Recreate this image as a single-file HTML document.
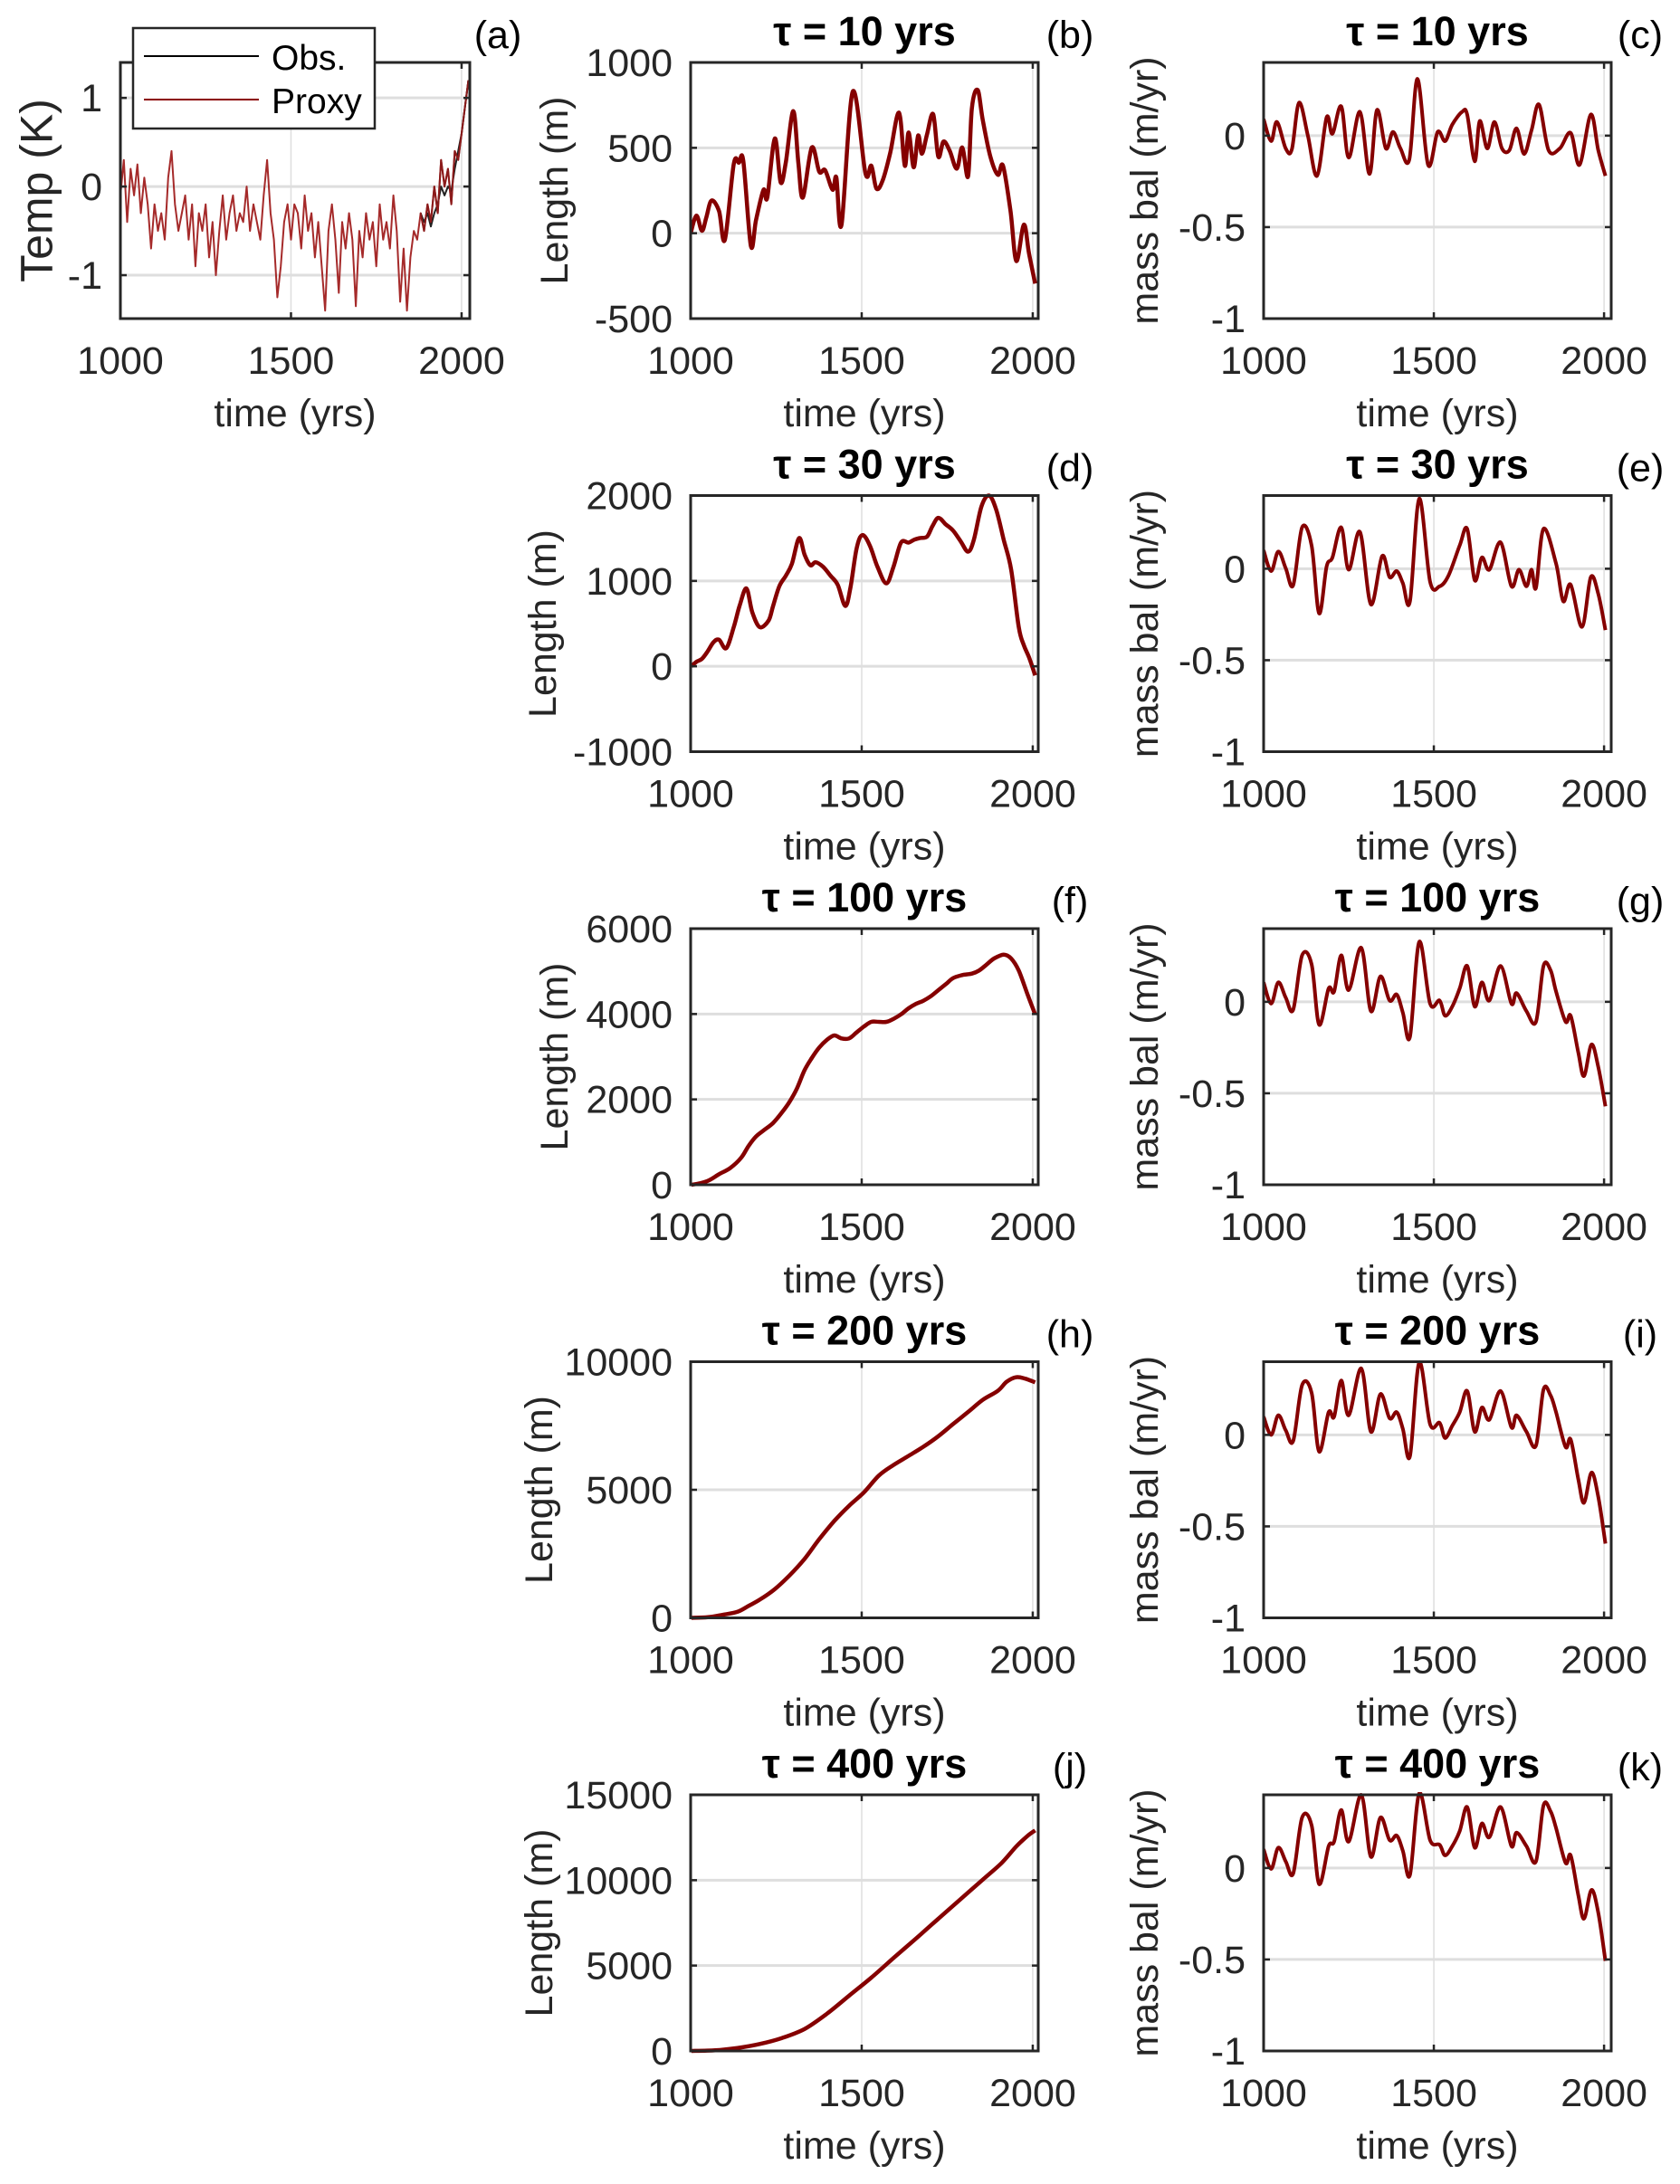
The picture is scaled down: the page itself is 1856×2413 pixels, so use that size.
<!DOCTYPE html>
<html><head><meta charset="utf-8">
<style>
html,body{margin:0;padding:0;background:#fff;}
svg{display:block;}
text{font-family:"Liberation Sans",Arial,sans-serif;}
</style></head>
<body>
<svg id="fig" width="1856" height="2413" viewBox="0 0 1856 2413" xmlns="http://www.w3.org/2000/svg"></svg>
<script>
// ---------- DATA ----------
const proxyYears = [1000,1010,1020,1030,1040,1050,1060,1070,1080,1090,1100,1110,1120,1130,1140,1150,1160,1170,1180,1190,1200,1210,1220,1230,1240,1250,1260,1270,1280,1290,1300,1310,1320,1330,1340,1350,1360,1370,1380,1390,1400,1410,1420,1430,1440,1450,1460,1470,1480,1490,1500,1510,1520,1530,1540,1550,1560,1570,1580,1590,1600,1610,1620,1630,1640,1650,1660,1670,1680,1690,1700,1710,1720,1730,1740,1750,1760,1770,1780,1790,1800,1810,1820,1830,1840,1850,1860,1870,1880,1890,1900,1910,1920,1930,1940,1950,1960,1970,1980,1990,2000,2010,2020];
const proxyTemp = [-0.1,0.3,-0.4,0.2,-0.1,0.25,-0.3,0.1,-0.2,-0.7,-0.2,-0.5,-0.3,-0.6,0.1,0.4,-0.2,-0.5,-0.3,-0.1,-0.6,-0.2,-0.9,-0.3,-0.5,-0.2,-0.8,-0.4,-1.0,-0.5,-0.1,-0.6,-0.3,-0.1,-0.5,-0.3,-0.4,0.0,-0.5,-0.2,-0.4,-0.6,-0.1,0.3,-0.3,-0.6,-1.25,-0.9,-0.4,-0.2,-0.6,-0.2,-0.3,-0.7,-0.1,-0.5,-0.3,-0.8,-0.4,-0.9,-1.4,-0.5,-0.2,-0.6,-1.2,-0.4,-0.7,-0.3,-0.6,-1.35,-0.5,-0.8,-0.3,-0.6,-0.4,-0.9,-0.2,-0.6,-0.4,-0.7,-0.1,-0.5,-1.3,-0.7,-1.4,-0.8,-0.5,-0.6,-0.3,-0.5,-0.2,-0.4,0.0,-0.3,0.3,0.0,0.2,-0.2,0.4,0.3,0.6,0.9,1.2];
const obsYears = [1880,1890,1900,1910,1920,1930,1940,1950,1960,1970,1980,1990,2000,2010,2020];
const obsTemp = [-0.3,-0.4,-0.3,-0.45,-0.3,-0.2,0.0,-0.1,0.0,-0.05,0.2,0.4,0.6,0.9,1.2];

const lenYears10 = [1000,1017,1033,1046,1061,1083,1100,1126,1141,1154,1176,1191,1213,1224,1246,1263,1278,1300,1315,1328,1354,1376,1393,1415,1426,1441,1474,1511,1528,1543,1561,1583,1609,1626,1637,1652,1665,1676,1691,1709,1724,1739,1757,1778,1794,1811,1822,1839,1854,1876,1898,1913,1935,1952,1974,1989,2007];
const len10 = [0,103,14,94,191,129,-39,404,413,422,-74,76,254,209,555,298,413,715,406,209,502,360,369,254,326,50,830,351,395,262,307,466,706,395,590,386,572,465,580,697,449,537,484,378,502,333,732,839,661,449,342,395,129,-163,50,-118,-295];

const lenYears30 = [1002,1017,1033,1050,1067,1083,1104,1126,1143,1163,1180,1202,1228,1241,1259,1278,1296,1317,1333,1350,1365,1387,1409,1430,1452,1467,1485,1502,1524,1546,1572,1593,1615,1637,1654,1670,1691,1707,1724,1746,1767,1789,1811,1828,1850,1872,1893,1915,1937,1959,1974,1989,2007];
const len30 = [0,53,88,177,283,311,212,459,707,912,636,459,537,707,936,1060,1201,1502,1307,1184,1219,1166,1060,954,707,919,1378,1537,1413,1166,972,1166,1449,1449,1484,1502,1519,1643,1739,1661,1590,1466,1343,1484,1873,2000,1837,1484,1131,459,247,106,-106];

const lenYears100 = [1002,1028,1054,1083,1115,1148,1170,1191,1213,1241,1267,1289,1311,1333,1354,1376,1398,1420,1441,1463,1485,1507,1528,1550,1572,1593,1615,1637,1659,1680,1702,1724,1746,1767,1794,1822,1843,1865,1887,1915,1937,1959,1985,2007];
const len100 = [0,35,106,247,389,636,919,1131,1272,1449,1696,1943,2261,2686,2968,3216,3392,3498,3428,3428,3569,3710,3816,3816,3816,3887,3993,4134,4240,4311,4417,4558,4700,4841,4912,4947,5018,5159,5300,5392,5300,5018,4452,3993];

const lenYears200 = [1002,1050,1093,1137,1170,1202,1246,1289,1333,1376,1420,1463,1507,1550,1593,1637,1680,1724,1767,1811,1854,1898,1924,1952,1978,2007];
const len200 = [0,24,118,236,473,709,1123,1655,2305,3073,3783,4374,4905,5556,5969,6324,6678,7092,7565,8038,8511,8865,9220,9397,9338,9196];

const lenYears400 = [1002,1072,1137,1202,1267,1333,1398,1463,1528,1593,1659,1724,1789,1854,1909,1952,1985,2007];
const len400 = [0,35,177,406,760,1290,2173,3233,4293,5442,6590,7739,8887,10035,11007,11979,12597,12915];

const mbYears10 = [1000,1022,1039,1065,1083,1104,1130,1157,1185,1202,1228,1250,1283,1311,1333,1359,1380,1402,1428,1452,1483,1511,1533,1554,1583,1598,1620,1635,1657,1678,1700,1722,1743,1765,1787,1809,1837,1870,1902,1928,1961,1983,2004];
const mb10 = [0.09,-0.03,0.075,-0.07,-0.075,0.18,0.0,-0.22,0.1,0.01,0.16,-0.12,0.13,-0.21,0.14,-0.07,0.02,-0.07,-0.13,0.31,-0.16,0.02,-0.03,0.06,0.13,0.115,-0.14,0.08,-0.07,0.075,-0.07,-0.08,0.04,-0.1,0.03,0.17,-0.08,-0.07,0.015,-0.16,0.115,-0.08,-0.22];

const mbYears30 = [1000,1022,1043,1065,1087,1113,1141,1163,1185,1202,1228,1250,1283,1315,1348,1370,1391,1409,1430,1457,1489,1517,1543,1576,1598,1620,1641,1663,1696,1728,1750,1772,1787,1800,1822,1859,1880,1902,1935,1961,1983,2004];
const mb30 = [0.10,-0.013,0.094,0.003,-0.09,0.226,0.127,-0.244,0.012,0.061,0.226,-0.005,0.201,-0.195,0.069,-0.046,-0.013,-0.079,-0.178,0.383,-0.071,-0.096,-0.038,0.127,0.218,-0.063,0.061,-0.005,0.144,-0.096,-0.005,-0.096,-0.005,-0.104,0.218,0.028,-0.178,-0.087,-0.318,-0.046,-0.137,-0.335];

const mbYearsLong = [1000,1022,1043,1065,1087,1113,1141,1163,1191,1207,1228,1250,1287,1315,1343,1370,1391,1409,1430,1457,1489,1517,1533,1554,1576,1598,1620,1641,1663,1696,1728,1743,1772,1800,1822,1843,1859,1887,1902,1924,1941,1963,1983,2004];
const mb100 = [0.106,-0.01,0.106,0.023,-0.043,0.254,0.205,-0.125,0.073,0.056,0.254,0.064,0.295,-0.051,0.139,0.007,0.040,-0.059,-0.191,0.328,-0.010,0.007,-0.076,-0.026,0.073,0.196,-0.026,0.106,0.007,0.196,-0.010,0.048,-0.051,-0.109,0.196,0.172,0.056,-0.109,-0.076,-0.274,-0.406,-0.233,-0.356,-0.571];
const mb200 = [0.099,0,0.107,0.025,-0.033,0.272,0.231,-0.091,0.124,0.099,0.297,0.107,0.363,0.017,0.223,0.091,0.124,0.033,-0.116,0.396,0.058,0.066,-0.017,0.050,0.124,0.240,0.017,0.149,0.083,0.240,0.041,0.107,0.017,-0.058,0.248,0.215,0.124,-0.066,-0.025,-0.239,-0.371,-0.206,-0.338,-0.594];
const mb400 = [0.102,-0.005,0.111,0.036,-0.030,0.276,0.234,-0.088,0.119,0.144,0.317,0.144,0.399,0.061,0.276,0.152,0.177,0.094,-0.038,0.408,0.152,0.127,0.069,0.119,0.201,0.333,0.111,0.243,0.168,0.333,0.119,0.193,0.119,0.036,0.342,0.309,0.218,0.028,0.069,-0.145,-0.277,-0.12,-0.244,-0.508];

const xTicks = [1000,1500,2000];
const tempTicks = [-1,0,1];
const mbTicks = [-1,-0.5,0];
const mbTickLabels = ['-1','-0.5','0'];
const tauLabels = ['10','30','100','200','400'];
const lenTicks = [[-500,0,500,1000],[-1000,0,1000,2000],[0,2000,4000,6000],[0,5000,10000],[0,5000,10000,15000]];
const lenRanges = [[-500,1000],[-1000,2000],[0,6000],[0,10000],[0,15000]];

// ---------- DRAW ----------
const NS='http://www.w3.org/2000/svg';
const svg=document.getElementById('fig');
function el(tag,attrs,parent){const e=document.createElementNS(NS,tag);for(const k in attrs)e.setAttribute(k,attrs[k]);(parent||svg).appendChild(e);return e;}
function txt(s,attrs,parent){const t=el('text',attrs,parent);t.textContent=s;return t;}
function pathD(pts,smooth){
  if(!smooth) return pts.map((p,i)=>(i?'L':'M')+p[0].toFixed(1)+','+p[1].toFixed(1)).join('');
  let d='M'+pts[0][0].toFixed(1)+','+pts[0][1].toFixed(1);
  for(let i=0;i<pts.length-1;i++){
    const p0=pts[Math.max(0,i-1)],p1=pts[i],p2=pts[i+1],p3=pts[Math.min(pts.length-1,i+2)];
    const c1=[p1[0]+(p2[0]-p0[0])/6,p1[1]+(p2[1]-p0[1])/6];
    const c2=[p2[0]-(p3[0]-p1[0])/6,p2[1]-(p3[1]-p1[1])/6];
    d+='C'+c1[0].toFixed(1)+','+c1[1].toFixed(1)+' '+c2[0].toFixed(1)+','+c2[1].toFixed(1)+' '+p2[0].toFixed(1)+','+p2[1].toFixed(1);
  }
  return d;
}

function panel(o){
  const g=el('g',{});
  
  
  const X=v=>o.x+(v-o.xr[0])/(o.xr[1]-o.xr[0])*o.w;
  const Y=v=>o.y+o.h-(v-o.yr[0])/(o.yr[1]-o.yr[0])*o.h;
  const fs=o.fs||43;
  o.xt.forEach(v=>{const l=el('line',{x1:X(v),x2:X(v),y1:o.y,y2:o.y+o.h,stroke:'#dedede','stroke-width':1.5},g);
    });
  o.yt.forEach(v=>{const l=el('line',{x1:o.x,x2:o.x+o.w,y1:Y(v),y2:Y(v),stroke:'#dedede','stroke-width':3},g);
    });
  const cp=el('clipPath',{id:'cp-'+o.name},g);
  el('rect',{x:o.x,y:o.y-3,width:o.w,height:o.h+6},cp);
  o.series.forEach(s=>{
    const pts=s.xs.map((x,i)=>[X(x),Y(s.ys[i])]);
    const p=el('path',{d:pathD(pts,s.smooth),fill:'none',stroke:s.color,'stroke-width':s.w,'stroke-linejoin':'round','clip-path':'url(#cp-'+o.name+')'},g);
    
    
  });
  const b=el('rect',{x:o.x,y:o.y,width:o.w,height:o.h,fill:'none',stroke:'#262626','stroke-width':3},g);
  
  o.xt.forEach(v=>{
    el('line',{x1:X(v),x2:X(v),y1:o.y+o.h,y2:o.y+o.h-7,stroke:'#262626','stroke-width':2.5},g);
    el('line',{x1:X(v),x2:X(v),y1:o.y,y2:o.y+7,stroke:'#262626','stroke-width':2.5},g);
    const t=txt(String(v),{x:X(v),y:o.y+o.h+61,'text-anchor':'middle','font-size':fs,fill:'#262626'},g);
    
  });
  o.yt.forEach((v,i)=>{
    el('line',{x1:o.x,x2:o.x+7,y1:Y(v),y2:Y(v),stroke:'#262626','stroke-width':2.5},g);
    el('line',{x1:o.x+o.w,x2:o.x+o.w-7,y1:Y(v),y2:Y(v),stroke:'#262626','stroke-width':2.5},g);
    const t=txt(o.ytl?o.ytl[i]:String(v),{x:o.x-20,y:Y(v)+15,'text-anchor':'end','font-size':fs,fill:'#262626'},g);
    
  });
  const xl=txt('time (yrs)',{x:o.x+o.w/2,y:o.y+o.h+119,'text-anchor':'middle','font-size':fs,fill:'#262626'},g);
  
  const yfs=o.yfs||fs;
  const yl=txt(o.ylabel,{x:o.ylx,y:o.y+o.h/2,'text-anchor':'middle','font-size':yfs,fill:'#262626',transform:`rotate(-90 ${o.ylx} ${o.y+o.h/2})`,dy:yfs*0.35},g);
  
  if(o.title){
    const tt=txt(o.title,{x:o.x+o.w/2,y:o.y-19,'text-anchor':'middle','font-size':45,'font-weight':'bold',fill:'#000'},g);
    
  }
  const lt=txt(o.letter,{x:o.lx,y:o.y-16,'text-anchor':'middle','font-size':43,fill:'#000'},g);
  
  return g;
}

const red='#850000';
panel({name:'panel-a-temperature',x:133,y:69,w:386,h:283,xr:[1000,2024],yr:[-1.49,1.4],xt:xTicks,yt:tempTicks,
  ylabel:'Temp (K)',ylx:40,yfs:50,fs:43,letter:'(a)',lx:550,title:null,
  series:[{xs:proxyYears,ys:proxyTemp,color:'#a52a2a',w:2,name:'proxy-line'},
          {xs:obsYears,ys:obsTemp,color:'#222',w:2,name:'obs-line'},
          {xs:proxyYears.slice(88),ys:proxyTemp.slice(88),color:'#8b1a1a',w:2,name:'proxy-line-recent'}]});
const lg=el('g',{});


el('rect',{x:147,y:31,width:267,height:111,fill:'#fff',stroke:'#262626','stroke-width':2.5},lg);
el('line',{x1:159,x2:286,y1:62,y2:62,stroke:'#000','stroke-width':2},lg);
el('line',{x1:159,x2:286,y1:110,y2:110,stroke:'#8b0000','stroke-width':2},lg);
const l1=txt('Obs.',{x:300,y:77,'font-size':39,fill:'#000'},lg);

const l2=txt('Proxy',{x:300,y:125,'font-size':39,fill:'#000'},lg);


const lenY=[[lenYears10,len10],[lenYears30,len30],[lenYears100,len100],[lenYears200,len200],[lenYears400,len400]];
const mbY=[[mbYears10,mb10],[mbYears30,mb30],[mbYearsLong,mb100],[mbYearsLong,mb200],[mbYearsLong,mb400]];
const lettersL=['(b)','(d)','(f)','(h)','(j)'];
const lettersR=['(c)','(e)','(g)','(i)','(k)'];
const ylxL=[612,599,612,595,595];
for(let r=0;r<5;r++){
  const top=69+r*478.5;
  panel({name:'panel-length-tau-'+tauLabels[r],x:763,y:top,w:384,h:283,xr:[1000,2016],yr:lenRanges[r],xt:xTicks,yt:lenTicks[r],
    ylabel:'Length (m)',ylx:ylxL[r],letter:lettersL[r],lx:1182,title:'τ = '+tauLabels[r]+' yrs',
    series:[{xs:lenY[r][0],ys:lenY[r][1],color:red,w:4.5,name:'length-line',smooth:true}]});
  panel({name:'panel-massbal-tau-'+tauLabels[r],x:1396,y:top,w:384,h:283,xr:[1000,2021],yr:[-1,0.4],xt:xTicks,yt:mbTicks,ytl:mbTickLabels,
    ylabel:'mass bal (m/yr)',ylx:1264,letter:lettersR[r],lx:1812,title:'τ = '+tauLabels[r]+' yrs',
    series:[{xs:mbY[r][0],ys:mbY[r][1],color:red,w:4,name:'massbal-line',smooth:true}]});
}
</script>
</body></html>
